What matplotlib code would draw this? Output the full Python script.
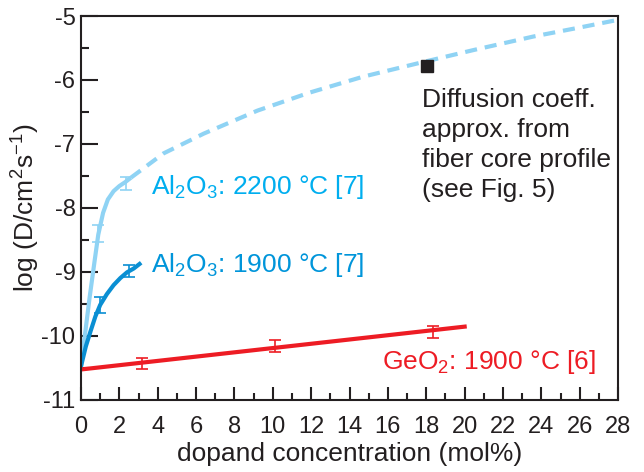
import numpy as np
import matplotlib
matplotlib.use("Agg")
import matplotlib.pyplot as plt
from matplotlib.ticker import MultipleLocator

plt.rcParams['font.family'] = ['Liberation Sans', 'DejaVu Sans']
plt.rcParams['axes.unicode_minus'] = False

# Al2O3 2200 C, solid fit and dashed extrapolation
al2200_x = [0, 0.2, 0.45, 0.7, 0.9, 1.15, 1.4, 1.7, 2.0, 2.3, 2.6]
al2200_y = [-10.48, -10.0, -9.4, -8.85, -8.42, -8.08, -7.87, -7.74, -7.66, -7.6, -7.53]
al2200_ext_x = [2.6, 4.3, 6.4, 9.2, 11.9, 14.7, 17.7, 20.5, 23.6, 26.0, 28.0]
al2200_ext_y = [-7.53, -7.15, -6.84, -6.48, -6.2, -5.95, -5.73, -5.53, -5.32, -5.18, -5.06]
al2200_err_x = [0.9, 2.32]
al2200_err_y = [-8.40, -7.62]
al2200_err = [0.13, 0.10]

# Al2O3 1900 C
al1900_x = [0, 0.25, 0.5, 0.75, 1.0, 1.35, 1.7, 2.05, 2.4, 2.75, 3.05]
al1900_y = [-10.48, -10.17, -9.93, -9.7, -9.52, -9.35, -9.21, -9.1, -9.01, -8.95, -8.88]
al1900_err_x = [0.99, 2.49]
al1900_err_y = [-9.52, -8.99]
al1900_err = [0.13, 0.09]

# GeO2 1900 C
geo_x = [0, 20]
geo_y = [-10.53, -9.86]
geo_err_x = [3.16, 10.1, 18.35]
geo_err_y = [-10.44, -10.17, -9.94]
geo_err = [0.09, 0.094, 0.094]

# fiber core estimate
fiber_x = [18.05]
fiber_y = [-5.79]

light = '#8FD3F4'
dark = '#0A8FD3'
red = '#ED1C24'
black = '#231F20'

fig = plt.figure(figsize=(6.44, 4.72), dpi=100)
ax = fig.add_axes([0.1258, 0.1536, 0.834, 0.8125])

ax.plot(al2200_x, al2200_y, color=light, lw=3, solid_capstyle='butt')
ax.plot(al2200_ext_x, al2200_ext_y, color=light, lw=3, dashes=(2.9, 1.9))
ax.errorbar(al2200_err_x, al2200_err_y, yerr=al2200_err, fmt='none',
            ecolor=light, elinewidth=1.2, capsize=4, capthick=1.2)

ax.plot(al1900_x, al1900_y, color=dark, lw=3)
ax.errorbar(al1900_err_x, al1900_err_y, yerr=al1900_err, fmt='none',
            ecolor=dark, elinewidth=1.2, capsize=4, capthick=1.2)

ax.plot(geo_x, geo_y, color=red, lw=3)
ax.errorbar(geo_err_x, geo_err_y, yerr=geo_err, fmt='none',
            ecolor=red, elinewidth=1.2, capsize=4, capthick=1.2)

ax.plot(fiber_x, fiber_y, 's', color=black, ms=9)

# labels
ax.text(3.64, -7.79, r'Al$\mathregular{_2}$O$\mathregular{_3}$: 2200 °C [7]',
        color='#00AEEF', fontsize=19, va='baseline')
ax.text(3.64, -9.0, r'Al$\mathregular{_2}$O$\mathregular{_3}$: 1900 °C [7]',
        color='#0095DA', fontsize=19, va='baseline')
ax.text(15.69, -10.52, r'GeO$\mathregular{_2}$: 1900 °C [6]',
        color=red, fontsize=19, va='baseline')
note = ['Diffusion coeff.', 'approx. from', 'fiber core profile', '(see Fig. 5)']
for i, line in enumerate(note):
    ax.text(17.76, -6.42 - 0.47 * i, line, color=black, fontsize=19, va='baseline')

ax.set_xlim(0, 28)
ax.set_ylim(-11, -5)
ax.xaxis.set_major_locator(MultipleLocator(2))
ax.xaxis.set_minor_locator(MultipleLocator(1))
ax.yaxis.set_major_locator(MultipleLocator(1))
ax.yaxis.set_minor_locator(MultipleLocator(0.5))

ax.tick_params(axis='both', which='both', direction='in', colors=black,
               width=1.5, labelsize=17)
ax.tick_params(axis='y', which='major', length=12, pad=4)
ax.tick_params(axis='y', which='minor', length=6)
ax.tick_params(axis='x', which='major', length=9.5, pad=12)
ax.tick_params(axis='x', which='minor', length=5)
for s in ax.spines.values():
    s.set_linewidth(1.5)
    s.set_color(black)

ax.set_xlabel('dopand concentration (mol%)', fontsize=19, color=black, labelpad=3)
ax.set_ylabel(r'log (D/cm$\mathregular{^2}$s$\mathregular{^{-1}}$)', fontsize=19,
              color=black)
ax.yaxis.set_label_coords(-0.073, 0.5)

fig.savefig('out.png', dpi=100)
